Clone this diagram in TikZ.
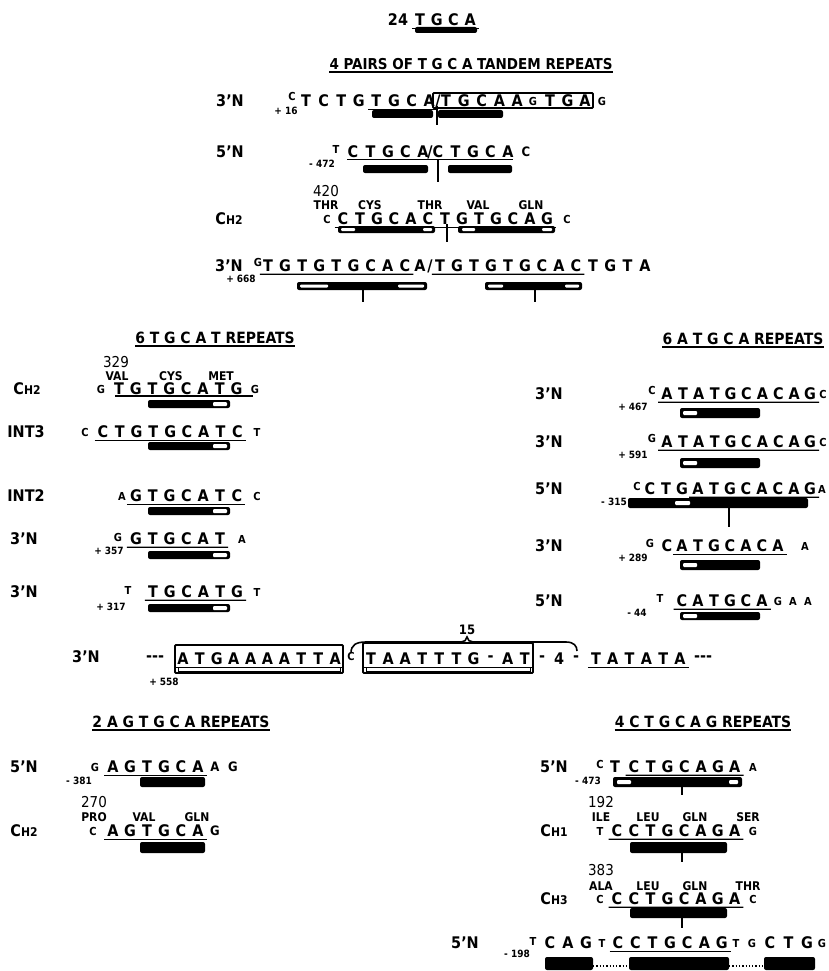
\documentclass[tikz,border=0pt]{standalone}
\usepackage{fontspec}
\usepackage{tikz}
\usetikzlibrary{positioning}
\newfontfamily\seqfont{DejaVu Sans Condensed}
\newcommand\fs[1]{\fontsize{#1}{#1}\selectfont}

% one row of nucleotides, evenly spaced
\newcommand\seqrow[5]{\foreach \l [count=\i] in {#5} \node[nt] (#1\i) at ({#2+(\i-1)*(#3)},#4) {\l};}
\newcommand\ulseq[2]{\draw[uline] ([shift={(-3pt,-2.5pt)}]#1.base west) -- ([shift={(3pt,-2.5pt)}]#2.base east);}
\newcommand\blkbar[4]{\fill[rounded corners=2pt] (#1,#2) rectangle (#3,#4);}
\newcommand\whiteseg[4]{\fill[white, rounded corners=1pt] (#1,#2) rectangle (#3,#4);}

\tikzset{
  base/.style={inner sep=0pt, font=\seqfont\bfseries\fs{16}},
  nt/.style={base},
  flank/.style={base, font=\seqfont\bfseries\fs{11}},
  mid/.style={base, font=\seqfont\bfseries\fs{13}},
  rowlab/.style={base, font=\seqfont\bfseries\fs{16}},
  posn/.style={base, font=\seqfont\bfseries\fs{10}},
  aa/.style={base, font=\seqfont\bfseries\fs{12}},
  codon/.style={base, font=\seqfont\fs{15}},
  titulo/.style={base, font=\seqfont\bfseries\fs{15.5}},
  uline/.style={line width=1.3pt},
  caixa/.style={line width=1.8pt, rounded corners=1pt},
  tick/.style={line width=1.8pt}
}

\begin{document}
\begin{tikzpicture}[x=1pt,y=-1pt]
\useasboundingbox (0,0) rectangle (828,971);

% 24 TGCA
\node[nt] (n24) at (398,20) {24};
\seqrow{top}{420}{16.7}{20}{T,G,C,A}
\ulseq{top1}{top4}
\blkbar{415}{27}{477}{33}

\node[titulo, font=\seqfont\bfseries\fs{15}] (tit1) at (471,64) {4 PAIRS OF T G C A TANDEM REPEATS};
\draw[uline] ([yshift=-2pt]tit1.south west) -- ([yshift=-2pt]tit1.south east);

% 3'N +16
\node[rowlab] (r1l) at (230,101) {3’N};
\node[flank] (r1f) at (292,96) {C};
\node[posn] (r1p) at (286,111) {+ 16};
\seqrow{r1a}{306}{17.6}{101}{T,C,T,G,T,G,C,A}
\node[nt] (r1s) at (438,101) {/};
\seqrow{r1b}{446}{17.8}{101}{T,G,C,A,A}
\node[flank] (r1g) at (533,101) {G};
\seqrow{r1c}{550}{17.5}{101}{T,G,A}
\node[flank] (r1e) at (602,101) {G};
\ulseq{r1a5}{r1a8}
\draw[caixa] (433,93) rectangle (593,108);
\blkbar{372}{110}{433}{118}
\blkbar{438}{110}{503}{118}
\draw[tick] (437,106) -- (437,125);

% 5'N -472
\node[rowlab] (r2l) at (230,152) {5’N};
\node[flank] (r2f) at (336,149) {T};
\node[posn] (r2p) at (322,164) {- 472};
\seqrow{r2a}{353}{17.5}{152}{C,T,G,C,A}
\node[nt] (r2s) at (430,152) {/};
\seqrow{r2b}{438}{17.5}{152}{C,T,G,C,A}
\node[mid] (r2e) at (526,152) {C};
\draw[uline] (347,159.5) -- (513,159.5);
\blkbar{363}{165}{428}{173}
\blkbar{448}{165}{512}{173}
\draw[tick] (438,160) -- (438,182);

% CH2 420
\node[codon] (r3n) at (326,191) {420};
\node[aa] (r3a1) at (326,205) {THR};
\node[aa] (r3a2) at (370,205) {CYS};
\node[aa] (r3a3) at (430,205) {THR};
\node[aa] (r3a4) at (478,205) {VAL};
\node[aa] (r3a5) at (531,205) {GLN};
\node[rowlab] (r3l) at (229,219) {C{\fs{12}H2}};
\node[flank] (r3f) at (327,219) {C};
\seqrow{r3s}{343}{17}{219}{C,T,G,C,A,C,T,G,T,G,C,A,G}
\node[flank] (r3e) at (567,219) {C};
\ulseq{r3s1}{r3s13}
\blkbar{338}{226}{435}{233} \whiteseg{341}{228}{355}{231} \whiteseg{423}{228}{432}{231}
\blkbar{458}{226}{555}{233} \whiteseg{462}{228}{475}{231} \whiteseg{542}{228}{552}{231}
\draw[tick] (447,224) -- (447,242);

% 3'N +668
\node[rowlab] (r4l) at (229,266) {3’N};
\node[flank] (r4f) at (258,262) {G};
\node[posn] (r4p) at (241,279) {+ 668};
\seqrow{r4a}{268}{17.1}{266}{T,G,T,G,T,G,C,A,C}
\node[nt] (r4x) at (420,266) {A};
\node[nt] (r4s) at (430,266) {/};
\seqrow{r4b}{440}{17}{266}{T,G,T,G,T,G,C,A,C}
\seqrow{r4c}{593}{17.3}{266}{T,G,T,A}
\ulseq{r4a1}{r4a9}
\ulseq{r4b1}{r4b9}
\blkbar{297}{282}{427}{290} \whiteseg{300}{284.5}{328}{287.5} \whiteseg{398}{284.5}{424}{287.5}
\blkbar{485}{282}{582}{290} \whiteseg{488}{284.5}{503}{287.5} \whiteseg{565}{284.5}{579}{287.5}
\draw[tick] (363,288) -- (363,302);
\draw[tick] (535,288) -- (535,302);

% 6 TGCAT repeats
\node[titulo] (tit2) at (215,338) {6 T G C A T REPEATS};
\draw[uline] ([yshift=-2pt]tit2.south west) -- ([yshift=-2pt]tit2.south east);

\node[codon] (l1n) at (116,362) {329};
\node[aa] (l1a1) at (117,376) {VAL};
\node[aa] (l1a2) at (171,376) {CYS};
\node[aa] (l1a3) at (221,376) {MET};
\node[rowlab] (l1l) at (27,389) {C{\fs{12}H2}};
\node[flank] (l1f) at (101,389) {G};
\seqrow{l1s}{119}{16.8}{389}{T,G,T,G,C,A,T,G}
\node[flank] (l1e) at (255,389) {G};
\draw[uline] (115,396) -- (253,396);
\blkbar{148}{400}{230}{408} \whiteseg{213}{402}{227}{406}

\node[rowlab] (l2l) at (26,432) {INT3};
\node[flank] (l2f) at (85,432) {C};
\seqrow{l2s}{103}{16.8}{432}{C,T,G,T,G,C,A,T,C}
\node[flank] (l2e) at (257,432) {T};
\ulseq{l2s1}{l2s9}
\blkbar{148}{442}{230}{450} \whiteseg{213}{444}{227}{448}

\node[rowlab] (l3l) at (26,496) {INT2};
\node[flank] (l3f) at (122,496) {A};
\seqrow{l3s}{136}{16.8}{496}{G,T,G,C,A,T,C}
\node[flank] (l3e) at (257,496) {C};
\ulseq{l3s1}{l3s7}
\blkbar{148}{507}{230}{515} \whiteseg{213}{509}{227}{513}

\node[rowlab] (l4l) at (24,539) {3’N};
\node[flank] (l4f) at (118,537) {G};
\node[posn] (l4p) at (109,551) {+ 357};
\seqrow{l4s}{136}{16.8}{539}{G,T,G,C,A,T}
\node[flank] (l4e) at (242,539) {A};
\ulseq{l4s1}{l4s6}
\blkbar{148}{551}{230}{559} \whiteseg{213}{553}{227}{557}

\node[rowlab] (l5l) at (24,592) {3’N};
\node[flank] (l5f) at (128,590) {T};
\node[posn] (l5p) at (111,607) {+ 317};
\seqrow{l5s}{153}{16.8}{592}{T,G,C,A,T,G}
\node[flank] (l5e) at (257,592) {T};
\ulseq{l5s1}{l5s6}
\blkbar{148}{604}{230}{612} \whiteseg{213}{606}{227}{610}

% 6 ATGCA repeats
\node[titulo] (tit3) at (743,339) {6 A T G C A REPEATS};
\draw[uline] ([yshift=-2pt]tit3.south west) -- ([yshift=-2pt]tit3.south east);

\node[rowlab] (d1l) at (549,394) {3’N};
\node[flank] (d1f) at (652,390) {C};
\node[posn] (d1p) at (633,407) {+ 467};
\seqrow{d1s}{667}{15.9}{394}{A,T,A,T,G,C,A,C,A,G}
\node[flank] (d1e) at (823,394) {C};
\ulseq{d1s1}{d1s10}
\blkbar{680}{408}{760}{418} \whiteseg{683}{411}{697}{415}

\node[rowlab] (d2l) at (549,442) {3’N};
\node[flank] (d2f) at (652,438) {G};
\node[posn] (d2p) at (633,455) {+ 591};
\seqrow{d2s}{667}{15.9}{442}{A,T,A,T,G,C,A,C,A,G}
\node[flank] (d2e) at (823,442) {C};
\ulseq{d2s1}{d2s10}
\blkbar{680}{458}{760}{468} \whiteseg{683}{461}{697}{465}

\node[rowlab] (d3l) at (549,489) {5’N};
\node[flank] (d3f) at (637,486) {C};
\node[posn] (d3p) at (614,502) {- 315};
\seqrow{d3a}{650}{16}{489}{C,T,G}
\seqrow{d3s}{698}{16}{489}{A,T,G,C,A,C,A,G}
\node[flank] (d3e) at (822,489) {A};
\ulseq{d3s1}{d3s8}
\blkbar{628}{498}{808}{508} \whiteseg{675}{501}{690}{505}
\draw[tick] (729,506) -- (729,527);

\node[rowlab] (d4l) at (549,546) {3’N};
\node[flank] (d4f) at (650,543) {G};
\node[posn] (d4p) at (633,558) {+ 289};
\node[nt] (d4c) at (667,546) {C};
\seqrow{d4s}{682}{16}{546}{A,T,G,C,A,C,A}
\node[flank] (d4e) at (805,546) {A};
\ulseq{d4s1}{d4s7}
\blkbar{680}{560}{760}{570} \whiteseg{683}{563}{697}{567}

\node[rowlab] (d5l) at (549,601) {5’N};
\node[flank] (d5f) at (660,598) {T};
\node[posn] (d5p) at (637,613) {- 44};
\seqrow{d5s}{682}{16}{601}{C,A,T,G,C,A}
\node[flank] (d5e1) at (778,601) {G};
\node[flank] (d5e2) at (793,601) {A};
\node[flank] (d5e3) at (808,601) {A};
\ulseq{d5s1}{d5s6}
\blkbar{680}{612}{760}{620} \whiteseg{683}{614}{697}{618}

% 3'N +558
\node[rowlab] (m0l) at (86,657) {3’N};
\node[nt] (m0d1) at (155,659) {{-}{-}{-}};
\seqrow{m0a}{183}{16.9}{659}{A,T,G,A,A,A,A,T,T,A}
\node[flank] (m0c) at (351,656) {C};
\seqrow{m0b}{371}{17.1}{659}{T,A,A,T,T,T,G,-,A,T}
\node[nt] (m0h1) at (542,659) {-};
\node[nt] (m0h2) at (559,659) {4};
\node[nt] (m0h3) at (576,659) {-};
\seqrow{m0t}{596}{16.8}{659}{T,A,T,A,T,A}
\node[nt] (m0d2) at (703,659) {{-}{-}{-}};
\node[posn] (m0p) at (164,682) {+ 558};
\node[mid] (m0n) at (467,630) {15};
\ulseq{m0a1}{m0a10}
\ulseq{m0b1}{m0b10}
\ulseq{m0t1}{m0t6}
\draw[caixa] (175,645) rectangle (343,673);
\draw[line width=1pt] (178,667) rectangle (340,671);
\draw[caixa] (363,643) rectangle (533,673);
\draw[line width=1pt] (366,667) rectangle (530,671);
\draw[line width=1.6pt] (351,653) .. controls (351,645) and (356,642) .. (366,642) -- (461,642)
  .. controls (464,642) and (467,640) .. (467,637) .. controls (467,640) and (470,642) .. (473,642)
  -- (566,642) .. controls (574,642) and (577,646) .. (577,651);

% 2 AGTGCA repeats
\node[titulo] (tit4) at (181,722) {2 A G T G C A REPEATS};
\draw[uline] ([yshift=-2pt]tit4.south west) -- ([yshift=-2pt]tit4.south east);

\node[rowlab] (e1l) at (24,767) {5’N};
\node[flank] (e1f) at (95,767) {G};
\node[posn] (e1p) at (79,781) {- 381};
\seqrow{e1s}{113}{17}{767}{A,G,T,G,C,A}
\node[mid] (e1e1) at (215,767) {A};
\node[mid] (e1e2) at (233,767) {G};
\ulseq{e1s1}{e1s6}
\blkbar{140}{777}{205}{787}

\node[codon] (e2n) at (94,802) {270};
\node[aa] (e2a1) at (94,817) {PRO};
\node[aa] (e2a2) at (144,817) {VAL};
\node[aa] (e2a3) at (197,817) {GLN};
\node[rowlab] (e2l) at (24,831) {C{\fs{12}H2}};
\node[flank] (e2f) at (93,831) {C};
\seqrow{e2s}{113}{17}{831}{A,G,T,G,C,A}
\node[mid] (e2e) at (215,831) {G};
\ulseq{e2s1}{e2s6}
\blkbar{140}{842}{205}{853}

% 4 CTGCAG repeats
\node[titulo] (tit5) at (703,722) {4 C T G C A G REPEATS};
\draw[uline] ([yshift=-2pt]tit5.south west) -- ([yshift=-2pt]tit5.south east);

\node[rowlab] (g1l) at (554,767) {5’N};
\node[flank] (g1f) at (600,764) {C};
\node[posn] (g1p) at (588,781) {- 473};
\node[nt] (g1t) at (615,767) {T};
\seqrow{g1s}{634}{16.8}{767}{C,T,G,C,A,G,A}
\node[flank] (g1e) at (753,767) {A};
\ulseq{g1s1}{g1s7}
\blkbar{613}{777}{742}{787} \whiteseg{617}{780}{631}{784} \whiteseg{729}{780}{738}{784}
\draw[tick] (682,786) -- (682,795);

\node[codon] (g2n) at (601,802) {192};
\node[aa] (g2a1) at (601,817) {ILE};
\node[aa] (g2a2) at (648,817) {LEU};
\node[aa] (g2a3) at (695,817) {GLN};
\node[aa] (g2a4) at (748,817) {SER};
\node[rowlab] (g2l) at (554,831) {C{\fs{12}H1}};
\node[flank] (g2f) at (600,831) {T};
\seqrow{g2s}{617}{16.8}{831}{C,C,T,G,C,A,G,A}
\node[flank] (g2e) at (753,831) {G};
\ulseq{g2s1}{g2s8}
\blkbar{630}{842}{727}{853}
\draw[tick] (682,852) -- (682,862);

\node[codon] (g3n) at (601,870) {383};
\node[aa] (g3a1) at (601,886) {ALA};
\node[aa] (g3a2) at (648,886) {LEU};
\node[aa] (g3a3) at (695,886) {GLN};
\node[aa] (g3a4) at (748,886) {THR};
\node[rowlab] (g3l) at (554,899) {C{\fs{12}H3}};
\node[flank] (g3f) at (600,899) {C};
\seqrow{g3s}{617}{16.8}{899}{C,C,T,G,C,A,G,A}
\node[flank] (g3e) at (753,899) {C};
\ulseq{g3s1}{g3s8}
\blkbar{630}{908}{727}{918}
\draw[tick] (682,917) -- (682,928);

\node[rowlab] (g4l) at (465,943) {5’N};
\node[flank] (g4f) at (533,941) {T};
\node[posn] (g4p) at (517,954) {- 198};
\seqrow{g4a}{550}{18}{943}{C,A,G}
\node[flank] (g4t) at (602,943) {T};
\seqrow{g4s}{618}{17.3}{943}{C,C,T,G,C,A,G}
\node[flank] (g4u1) at (736,943) {T};
\node[flank] (g4u2) at (752,943) {G};
\seqrow{g4b}{770}{18.5}{943}{C,T,G}
\node[flank] (g4e) at (822,943) {G};
\ulseq{g4s1}{g4s7}
\blkbar{545}{957}{593}{970}
\blkbar{629}{957}{729}{970}
\blkbar{764}{957}{815}{970}
\draw[dotted, line width=1.3pt] (593,966) -- (629,966);
\draw[dotted, line width=1.3pt] (729,966) -- (764,966);
\end{tikzpicture}
\end{document}
